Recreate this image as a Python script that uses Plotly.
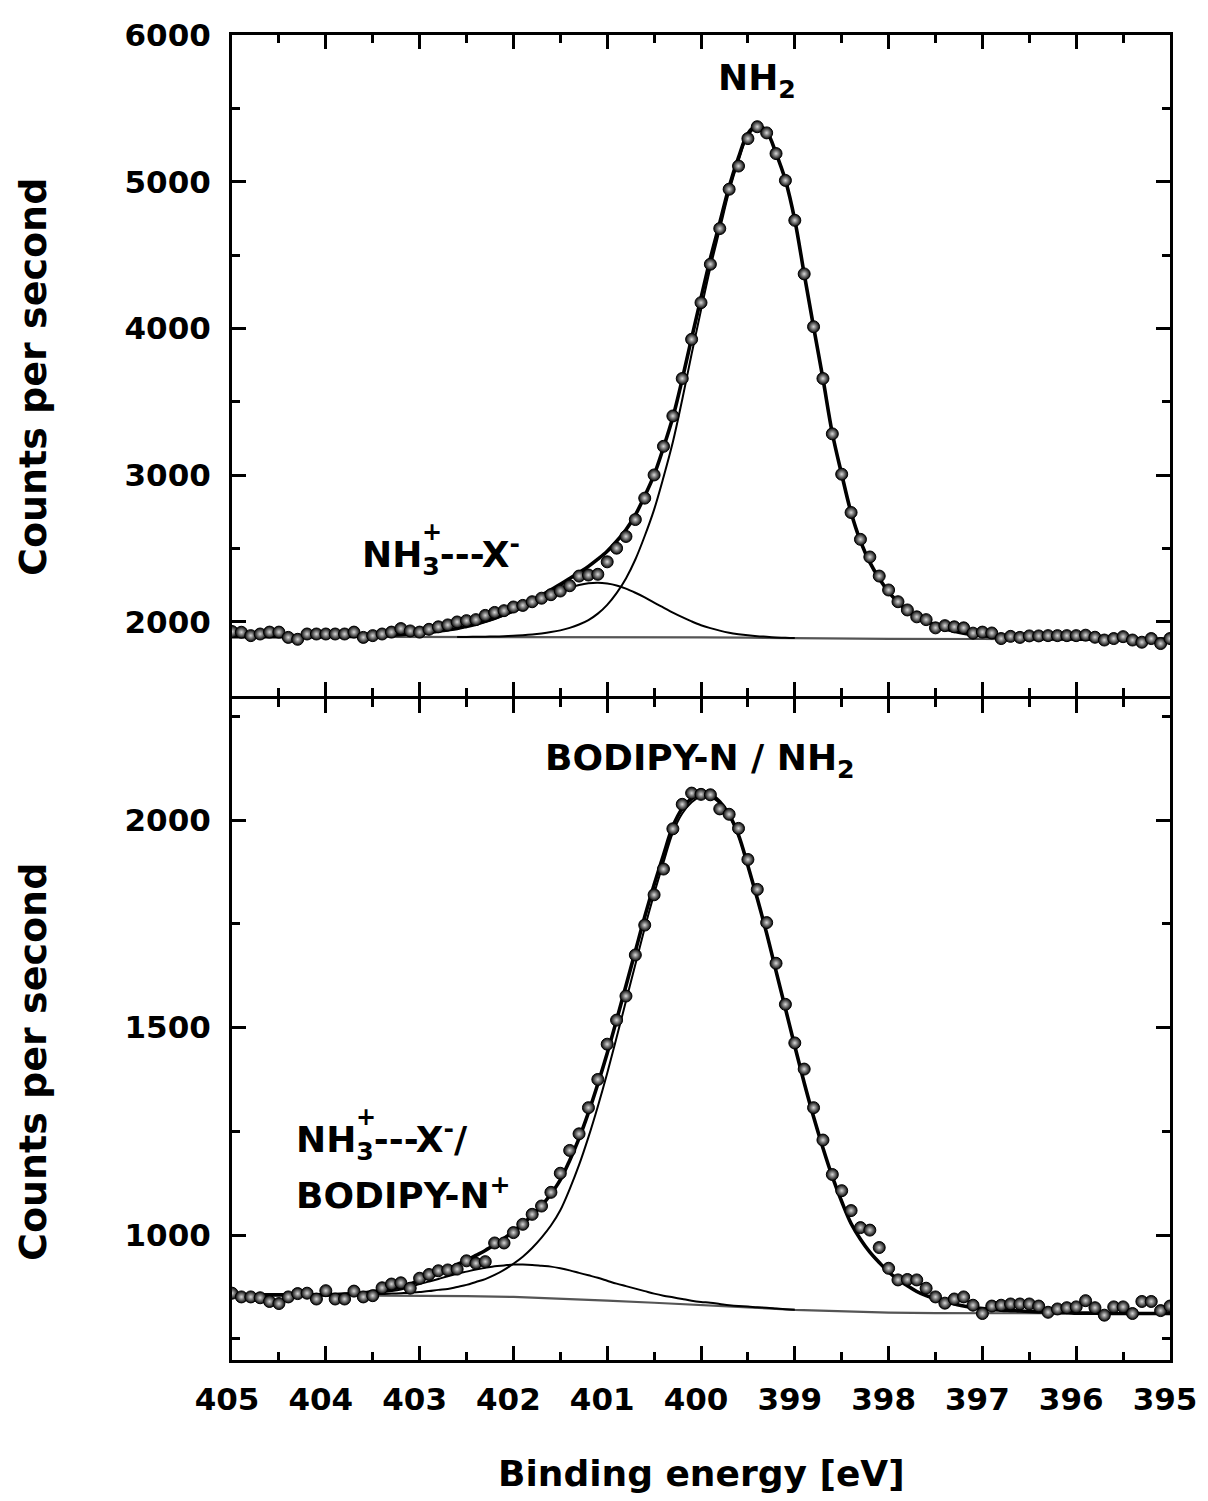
import plotly.graph_objects as go

# ---------------- data (binding energy grid, eV) ----------------
E = [405.0, 404.9, 404.8, 404.7, 404.6, 404.5, 404.4, 404.3, 404.2, 404.1,
     404.0, 403.9, 403.8, 403.7, 403.6, 403.5, 403.4, 403.3, 403.2, 403.1,
     403.0, 402.9, 402.8, 402.7, 402.6, 402.5, 402.4, 402.3, 402.2, 402.1,
     402.0, 401.9, 401.8, 401.7, 401.6, 401.5, 401.4, 401.3, 401.2, 401.1,
     401.0, 400.9, 400.8, 400.7, 400.6, 400.5, 400.4, 400.3, 400.2, 400.1,
     400.0, 399.9, 399.8, 399.7, 399.6, 399.5, 399.4, 399.3, 399.2, 399.1,
     399.0, 398.9, 398.8, 398.7, 398.6, 398.5, 398.4, 398.3, 398.2, 398.1,
     398.0, 397.9, 397.8, 397.7, 397.6, 397.5, 397.4, 397.3, 397.2, 397.1,
     397.0, 396.9, 396.8, 396.7, 396.6, 396.5, 396.4, 396.3, 396.2, 396.1,
     396.0, 395.9, 395.8, 395.7, 395.6, 395.5, 395.4, 395.3, 395.2, 395.1,
     395.0]

# ---- top panel ----
TOP_COUNTS = [1935, 1930, 1907, 1918, 1931, 1931, 1895, 1882, 1918, 1918,
              1918, 1918, 1918, 1931, 1895, 1907, 1918, 1931, 1955, 1939,
              1931, 1950, 1967, 1980, 2000, 2009, 2016, 2045, 2065, 2077,
              2102, 2113, 2138, 2162, 2186, 2211, 2247, 2313, 2320, 2325,
              2410, 2503, 2583, 2698, 2844, 3002, 3197, 3404, 3659, 3926,
              4176, 4438, 4681, 4949, 5107, 5294, 5375, 5333, 5192, 5009,
              4737, 4372, 4012, 3659, 3282, 3007, 2746, 2563, 2443, 2313,
              2218, 2138, 2082, 2035, 2016, 1960, 1975, 1967, 1960, 1924,
              1931, 1925, 1887, 1902, 1895, 1905, 1905, 1907, 1907, 1907,
              1907, 1910, 1896, 1877, 1887, 1900, 1877, 1862, 1887, 1853,
              1887]
TOP_ENVELOPE = [1900, 1900, 1900, 1900, 1900, 1900, 1900, 1900, 1900, 1900,
                1901, 1901, 1902, 1902, 1903, 1905, 1907, 1910, 1914, 1918,
                1923, 1929, 1937, 1946, 1956, 1970, 1985, 2004, 2025, 2050,
                2078, 2110, 2145, 2182, 2219, 2256, 2296, 2337, 2379, 2428,
                2482, 2550, 2628, 2729, 2858, 3002, 3189, 3395, 3654, 3935,
                4208, 4478, 4721, 4966, 5166, 5329, 5383, 5342, 5194, 5011,
                4739, 4372, 4011, 3658, 3286, 3006, 2746, 2551, 2406, 2296,
                2205, 2135, 2075, 2035, 2005, 1976, 1954, 1937, 1924, 1914,
                1906, 1900, 1896, 1893, 1890, 1888, 1886, 1885, 1884, 1884,
                1883, 1883, 1883, 1883, 1883, 1883, 1883, 1883, 1883, 1883,
                1883]
# NH2 component, 402.6 -> 396.0 eV
TOP_NH2 = [1898, 1898, 1899, 1900, 1901, 1903, 1906,
           1910, 1915, 1922, 1931, 1943, 1960, 1983, 2013, 2057, 2117,
           2197, 2297, 2426, 2586, 2766, 2986, 3226, 3516, 3826, 4125,
           4415, 4674, 4933, 5143, 5313, 5371, 5335, 5190, 5009, 4738,
           4371, 4010, 3658, 3286, 3006, 2746, 2551, 2406, 2296, 2205,
           2135, 2075, 2035, 2005, 1976, 1954, 1937, 1924, 1914, 1906,
           1900, 1896, 1893, 1890, 1888, 1886, 1885, 1884, 1884, 1883]
# NH3+---X- component, 404.0 -> 399.0 eV
TOP_NH3 = [1901, 1901, 1902, 1902, 1903, 1905, 1907, 1910, 1914, 1918,
           1923, 1929, 1937, 1946, 1956, 1969, 1984, 2002, 2022, 2045,
           2070, 2098, 2128, 2158, 2186, 2211, 2234, 2252, 2264, 2268,
           2262, 2249, 2227, 2199, 2168, 2132, 2098, 2064, 2033, 2004,
           1978, 1958, 1941, 1927, 1917, 1909, 1903, 1899, 1895, 1892,
           1890]
TOP_BG_E = [405.0, 404.0, 403.0, 402.0, 401.5, 401.0, 400.5, 400.0, 399.5,
            399.0, 398.5, 398.0, 397.0, 396.0, 395.0]
TOP_BG = [1900, 1900, 1899, 1898, 1898, 1897, 1896, 1895, 1893,
          1889, 1886, 1885, 1884, 1883, 1883]

# ---- bottom panel ----
BOT_COUNTS = [860, 851, 851, 849, 840, 835, 851, 859, 860, 846,
              866, 846, 846, 865, 851, 854, 873, 882, 885, 872,
              896, 905, 914, 916, 918, 938, 932, 936, 981, 981,
              1006, 1026, 1050, 1070, 1103, 1149, 1204, 1244, 1307, 1375,
              1460, 1518, 1576, 1675, 1747, 1820, 1882, 1979, 2038, 2065,
              2062, 2061, 2027, 2014, 1980, 1905, 1833, 1753, 1655, 1556,
              1463, 1400, 1307, 1229, 1146, 1107, 1059, 1018, 1012, 970,
              920, 892, 893, 892, 872, 851, 836, 846, 851, 831,
              811, 829, 831, 834, 834, 834, 829, 814, 822, 825,
              827, 842, 825, 807, 827, 827, 811, 840, 840, 818,
              829]
BOT_ENVELOPE = [856, 856, 856, 856, 856, 856, 856, 856, 856, 856,
                856, 857, 858, 859, 860, 864, 866, 870, 875, 882,
                891, 899, 908, 918, 929, 939, 951, 963, 977, 992,
                1009, 1027, 1048, 1071, 1099, 1133, 1180, 1233, 1295, 1364,
                1438, 1518, 1601, 1684, 1767, 1844, 1916, 1985, 2028, 2052,
                2064, 2062, 2044, 2013, 1964, 1890, 1811, 1727, 1636, 1546,
                1455, 1367, 1285, 1210, 1141, 1081, 1028, 990, 959, 934,
                911, 893, 878, 864, 854, 846, 839, 834, 829, 826,
                823, 821, 819, 818, 817, 816, 815, 814, 813, 813,
                812, 812, 812, 812, 811, 811, 811, 811, 811, 811,
                811]
# BODIPY-N / NH2 component, 403.9 -> 395.5 eV
BOT_MAIN = [856, 856, 857, 857, 858, 858, 859, 860, 861, 863,
            865, 868, 870, 875, 880, 887, 894, 904, 916, 931,
            948, 969, 994, 1023, 1060, 1111, 1169, 1236, 1310, 1390,
            1476, 1564, 1652, 1740, 1822, 1898, 1970, 2016, 2043, 2057,
            2056, 2040, 2010, 1962, 1888, 1810, 1726, 1635, 1545, 1455,
            1367, 1285, 1210, 1141, 1081, 1028, 990, 959, 934, 911,
            893, 878, 864, 854, 846, 839, 834, 829, 826, 823,
            821, 819, 818, 817, 816, 815, 814, 813, 813, 812,
            812, 812, 812, 811, 811]
# NH3+---X- / BODIPY-N+ component, 404.2 -> 399.0 eV
BOT_SEC = [856, 856, 856, 856, 857, 857, 858, 860, 862, 865,
           869, 875, 882, 888, 894, 901, 907, 912, 917, 921,
           925, 927, 929, 929, 928, 926, 924, 920, 915, 909,
           903, 897, 890, 883, 877, 871, 865, 859, 854, 850,
           846, 842, 839, 837, 834, 831, 829, 828, 826, 825,
           823, 821, 820]
BOT_BG_E = [405.0, 404.0, 403.0, 402.5, 402.0, 401.5, 401.0, 400.5, 400.0,
            399.5, 399.0, 398.5, 398.0, 397.5, 397.0, 396.0, 395.0]
BOT_BG = [856, 855, 854, 853, 851, 847, 842, 837, 832,
          826, 820, 816, 813, 812, 812, 811, 811]

X_TICKS = [405, 404, 403, 402, 401, 400, 399, 398, 397, 396, 395]
TOP_YTICKS = [2000, 3000, 4000, 5000, 6000]
BOT_YTICKS = [1000, 1500, 2000]

for arr in (TOP_COUNTS, TOP_ENVELOPE, BOT_COUNTS, BOT_ENVELOPE):
    assert len(arr) == len(E), len(arr)
assert len(TOP_NH2) == 67 and len(TOP_NH3) == 51
assert len(BOT_MAIN) == 85 and len(BOT_SEC) == 53

# ---------------- figure ----------------
# the page body has an 8 px margin on every side; keep the document inside
# the 1208x1501 window so nothing is rescaled
OFF = 8
W, H = 1208 - 2 * OFF, 1501 - 2 * OFF
L, T = 232 - OFF, 35 - OFF
R = W - (1170 - OFF)
B = H - (1360 - OFF)
PW, PH = W - L - R, H - T - B
FONT = "DejaVu Sans"


def paper(x, y):
    """window pixel -> paper coordinate"""
    return (x - OFF - L) / PW, (H - B - (y - OFF)) / PH


def py(y):
    return (H - B - (y - OFF)) / PH


fig = go.Figure()

marker = dict(size=12, color="#050505", symbol="circle",
              gradient=dict(type="radial", color="#d8d8d8"),
              line=dict(width=1, color="#000000"))


def add_panel(xa, ya, bg_e, bg, comps, env, counts):
    fig.add_trace(go.Scatter(x=bg_e, y=bg, mode="lines", xaxis=xa, yaxis=ya,
                             line=dict(color="#555555", width=2.2)))
    for ce, cv in comps:
        fig.add_trace(go.Scatter(x=ce, y=cv, mode="lines", xaxis=xa, yaxis=ya,
                                 line=dict(color="#000000", width=2, shape="spline")))
    fig.add_trace(go.Scatter(x=E, y=env, mode="lines", xaxis=xa, yaxis=ya,
                             line=dict(color="#000000", width=3.6, shape="spline")))
    fig.add_trace(go.Scatter(x=E, y=counts, mode="markers", xaxis=xa, yaxis=ya,
                             marker=marker))


add_panel("x2", "y2", TOP_BG_E, TOP_BG,
          [(E[24:91], TOP_NH2), (E[10:61], TOP_NH3)], TOP_ENVELOPE, TOP_COUNTS)
add_panel("x", "y", BOT_BG_E, BOT_BG,
          [(E[11:96], BOT_MAIN), (E[8:61], BOT_SEC)], BOT_ENVELOPE, BOT_COUNTS)

tickfont = dict(family=FONT, size=31, color="#000000", weight="bold")
common = dict(showline=True, linewidth=3, linecolor="#000000", mirror="allticks",
              ticks="inside", ticklen=14, tickwidth=3, tickcolor="#000000",
              showgrid=False, zeroline=False, tickfont=tickfont,
              automargin=False)
xcommon = dict(common, range=[405, 395], tickvals=X_TICKS,
               ticklabeloverflow="allow",
               minor=dict(dtick=0.5, tick0=395, ticks="inside", ticklen=8,
                          tickwidth=3, tickcolor="#000000", showgrid=False))

# panels touch at y = 697; the two frame lines are drawn just outside each
# panel, so leave a 3 px seam for them to coincide
top_lo = py(695.5)
bot_hi = py(698.5)

fig.update_layout(
    template="none",
    width=W, height=H,
    margin=dict(l=L, r=R, t=T, b=B, pad=0, autoexpand=False),
    paper_bgcolor="#ffffff", plot_bgcolor="#ffffff",
    showlegend=False,
    # the shift nudges the labels a few pixels left so "395" stays on the page
    xaxis=dict(xcommon, domain=[0, 1], anchor="y", ticklabelstandoff=10,
               ticklabelshift=5),
    xaxis2=dict(xcommon, domain=[0, 1], anchor="y2", matches="x",
                showticklabels=False),
    yaxis=dict(common, domain=[0, bot_hi], anchor="x", range=[699, 2293],
               tickvals=BOT_YTICKS, ticklabelstandoff=12,
               minor=dict(dtick=250, tick0=0, ticks="inside", ticklen=8,
                          tickwidth=3, tickcolor="#000000", showgrid=False)),
    yaxis2=dict(common, domain=[top_lo, 1], anchor="x2", range=[1499, 6000],
                tickvals=TOP_YTICKS, ticklabelstandoff=12,
                minor=dict(dtick=500, tick0=0, ticks="inside", ticklen=8,
                           tickwidth=3, tickcolor="#000000", showgrid=False)),
)

ann = []


def text(s, x, y, size, xanchor="left", yanchor="middle", angle=0):
    px_, py_ = paper(x, y)
    ann.append(dict(text=s, x=px_, y=py_, xref="paper", yref="paper",
                    xanchor=xanchor, yanchor=yanchor, showarrow=False,
                    textangle=angle,
                    font=dict(family=FONT, size=size, color="#000000",
                              weight="bold")))


# axis titles
text("Counts per second", 33, 377, 38, xanchor="center", angle=-90)
text("Counts per second", 33, 1062, 38, xanchor="center", angle=-90)
text("Binding energy [eV]", 701, 1473, 36, xanchor="center")

# peak labels
text("NH<sub>2</sub>", 716, 80, 36)
text("NH<sub>3</sub>---X<sup>-</sup>", 360, 555, 36)
text("+", 432, 532, 24, xanchor="center")
text("BODIPY-N / NH<sub>2</sub>", 543, 760, 36)
text("NH<sub>3</sub>---X<sup>-</sup>/", 294, 1140, 36)
text("+", 366, 1117, 24, xanchor="center")
text("BODIPY-N<sup>+</sup>", 294, 1193, 36)

fig.update_layout(annotations=ann)
fig.write_html("out.html")
